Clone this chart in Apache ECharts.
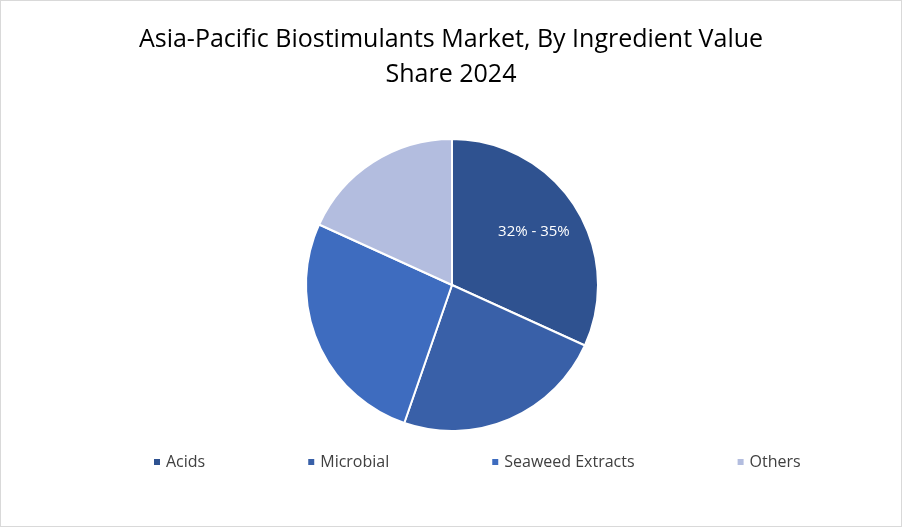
<!DOCTYPE html>
<html><head><meta charset="utf-8">
<script src="https://cdn.jsdelivr.net/npm/echarts@6/dist/echarts.min.js"></script>
<style>html,body{margin:0;padding:0;background:#fff}#c{width:902px;height:527px;box-sizing:border-box;border:1px solid #d9d9d9}</style>
</head><body><div id="c"></div>
<script>
const categories = ["Acids","Microbial","Seaweed Extracts","Others"];
const values = [31.8,23.5,26.5,18.2];
const labels = ["32% - 35%","","",""];
const colors = ["#2f5290","#3960a8","#3e6cbf","#b3bddf"];
const chart = echarts.init(document.getElementById('c'));
chart.setOption({
  animation:false,
  title:{text:"Asia-Pacific Biostimulants Market, By Ingredient Value\nShare 2024",left:'center',top:16,
    textStyle:{fontFamily:'Open Sans',fontWeight:'normal',fontSize:25,color:'#000',lineHeight:35}},
  legend:{bottom:51,left:146,itemWidth:8,itemHeight:8,itemGap:101,icon:'rect',
    textStyle:{fontFamily:'Open Sans',fontSize:16,color:'#404040'},data:categories},
  series:[{type:'pie',center:[451,284],radius:146,startAngle:90,clockwise:true,
    itemStyle:{borderColor:'#fff',borderWidth:2},
    label:{position:'inside',color:'#fff',fontFamily:'Open Sans',fontSize:15,offset:[18,-12],
      formatter:p=>labels[p.dataIndex]},
    labelLine:{show:false},
    data:categories.map((c,i)=>({name:c,value:values[i],itemStyle:{color:colors[i]}}))}]
});
</script></body></html>
